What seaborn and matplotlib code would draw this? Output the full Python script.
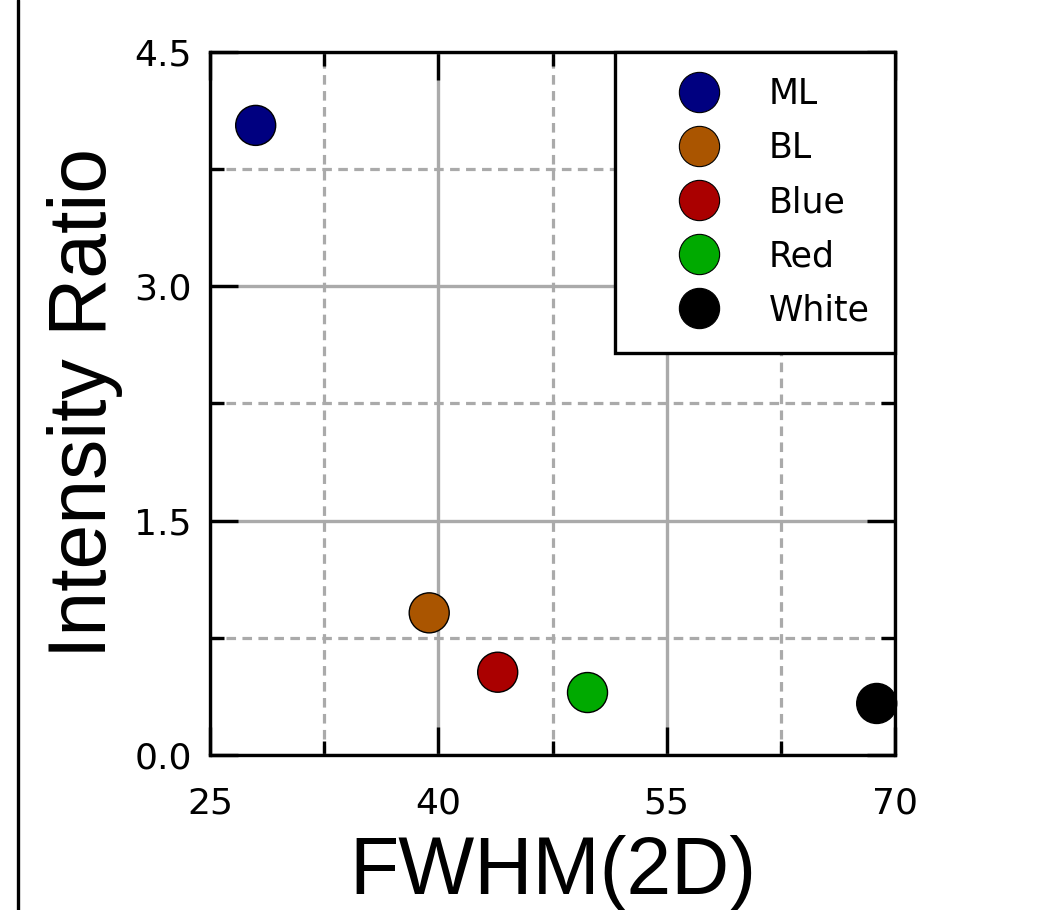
import matplotlib
matplotlib.use("Agg")
import pandas as pd
import seaborn as sns
import matplotlib.pyplot as plt
from matplotlib.lines import Line2D
from matplotlib.ticker import FixedLocator

# values
samples = ["ML", "BL", "Blue", "Red", "White"]
fwhm = [28.0, 39.4, 43.9, 49.8, 68.8]
ratio = [4.03, 0.91, 0.53, 0.40, 0.33]
colors = ["#000080", "#AA5500", "#AA0000", "#00AA00", "#000000"]
x_ticks = [25, 40, 55, 70]
x_minor = [32.5, 47.5, 62.5]
y_ticks = [0.0, 1.5, 3.0, 4.5]
y_minor = [0.75, 2.25, 3.75]

df = pd.DataFrame({"sample": samples, "fwhm": fwhm, "ratio": ratio})
palette = dict(zip(samples, colors))

sns.set_style("white")
plt.rcParams["font.family"] = ["DejaVu Sans"]
plt.rcParams["text.color"] = "black"
plt.rcParams["axes.labelcolor"] = "black"
plt.rcParams["xtick.color"] = "black"
plt.rcParams["ytick.color"] = "black"

fig = plt.figure(figsize=(10.48, 9.10), dpi=100)
ax = fig.add_axes([0.2004, 0.1703, 0.6536, 0.7726])

sns.scatterplot(data=df, x="fwhm", y="ratio", hue="sample", palette=palette,
                s=830, edgecolor="black", linewidth=1, legend=False,
                zorder=5, clip_on=False, ax=ax)

ax.set_xlim(25, 70)
ax.set_ylim(0, 4.5)
ax.xaxis.set_major_locator(FixedLocator(x_ticks))
ax.xaxis.set_minor_locator(FixedLocator(x_minor))
ax.yaxis.set_major_locator(FixedLocator(y_ticks))
ax.yaxis.set_minor_locator(FixedLocator(y_minor))
ax.set_xticklabels([str(v) for v in x_ticks])
ax.set_yticklabels([f"{v:.1f}" for v in y_ticks])

ax.grid(which="major", color="#aaaaaa", linestyle="-", linewidth=2.4)
ax.grid(which="minor", color="#aaaaaa", linestyle=(0, (3, 2)), linewidth=2.3)
ax.set_axisbelow(True)

ax.tick_params(which="both", direction="in", top=True, right=True,
               bottom=True, left=True, color="black", width=2.4,
               labelsize=26, labelcolor="black")
ax.tick_params(which="major", length=20)
ax.tick_params(which="minor", length=10)
ax.tick_params(axis="y", which="major", pad=13)
ax.tick_params(axis="x", which="major", pad=23)
for sp in ax.spines.values():
    sp.set_color("black")
    sp.set_linewidth(2.4)

ax.set_xlabel("FWHM(2D)", fontsize=58, family="Liberation Sans", labelpad=10)
ax.set_ylabel("Intensity Ratio", fontsize=58, family="Liberation Sans", labelpad=8)

handles = [Line2D([], [], marker="o", linestyle="", markersize=29,
                  markerfacecolor=palette[s], markeredgecolor="black",
                  markeredgewidth=0.8, label=s) for s in samples]
leg = ax.legend(handles=handles, loc="upper right", fontsize=25,
                borderaxespad=0, borderpad=0.72, handlelength=3.4,
                handletextpad=0.32, labelspacing=0.58, fancybox=False,
                framealpha=1, edgecolor="black")
leg.get_frame().set_linewidth(2.4)
leg.set_zorder(10)

# vertical rule on the left edge of the picture
fig.add_artist(Line2D([0.0172, 0.0172], [0, 1], color="black", linewidth=2.4,
                      transform=fig.transFigure))

fig.savefig("out.png", dpi=100)
